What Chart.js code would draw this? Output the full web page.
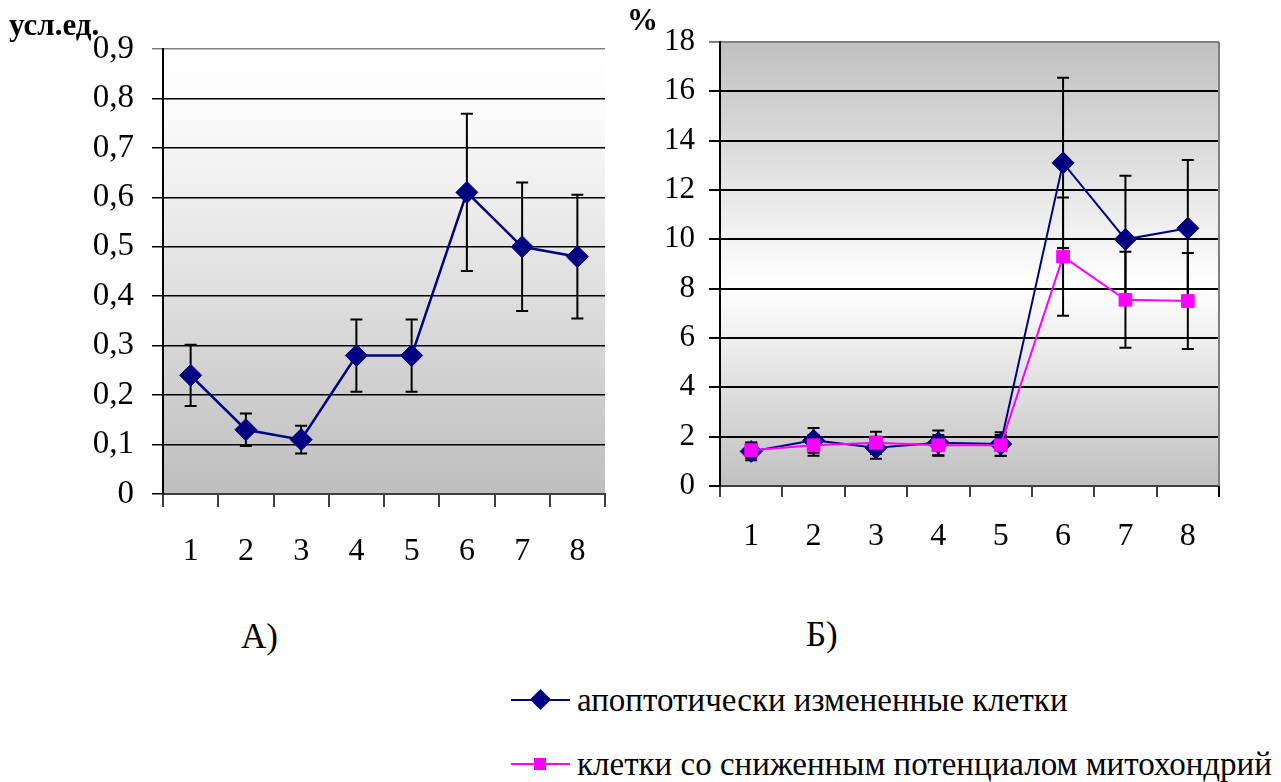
<!DOCTYPE html>
<html>
<head>
<meta charset="utf-8">
<script src="https://cdn.jsdelivr.net/npm/chart.js@4"></script>
<style>
  body { margin: 0; background: #fff; width: 1281px; height: 782px; position: relative; overflow: hidden; font-family: "Liberation Serif", "Times New Roman", serif; }
  canvas { position: absolute; }
  .txt { position: absolute; white-space: nowrap; color: #000; line-height: 1; }
  .unit { font-weight: bold; font-size: 31px; }
  .panel { font-size: 35px; }
  .leg { font-size: 33px; }
  .mk { position: absolute; }
</style>
</head>
<body>
<canvas id="chartA" width="620" height="600" style="left:0;top:0;width:620px;height:600px"></canvas>
<canvas id="chartB" width="661" height="600" style="left:620px;top:0;width:661px;height:600px"></canvas>

<div class="txt unit" style="left:9px;top:9px">усл.ед.</div>
<div class="txt unit" style="left:627px;top:4px">%</div>
<div class="txt panel" style="left:241px;top:619px">А)</div>
<div class="txt panel" style="left:806px;top:617px">Б)</div>

<!-- legend -->
<div class="mk" style="left:511px;top:699px;width:59px;height:2px;background:#000080"></div>
<div class="mk" style="left:533px;top:692px;width:15px;height:15px;background:#000080;transform:rotate(45deg)"></div>
<div class="txt leg" style="left:577px;top:684px">апоптотически измененные клетки</div>
<div class="mk" style="left:511px;top:763px;width:59px;height:2px;background:#ff00ff"></div>
<div class="mk" style="left:534px;top:758px;width:12px;height:12px;background:#ff00ff"></div>
<div class="txt leg" style="left:577px;top:748px">клетки со сниженным потенциалом митохондрий</div>

<script>
const categories = ["1", "2", "3", "4", "5", "6", "7", "8"];

// А) усл.ед.
const indexA = [0.24, 0.13, 0.11, 0.28, 0.28, 0.61, 0.50, 0.48];
const indexAErr = [0.062, 0.033, 0.028, 0.073, 0.073, 0.159, 0.13, 0.125];

// Б) %
const apoptotic = [1.4, 1.85, 1.55, 1.75, 1.7, 13.1, 10.0, 10.45];
const apoptoticErr = [0.36, 0.5, 0.45, 0.5, 0.48, 3.45, 2.58, 2.77];
const lowPotential = [1.45, 1.65, 1.75, 1.65, 1.65, 9.3, 7.55, 7.5];
const lowPotentialErr = [0.3, 0.42, 0.45, 0.42, 0.42, 2.4, 1.95, 1.95];

const FONT = "'Liberation Serif', 'Times New Roman', serif";

// gradient fill of the plot area
const plotBackground = {
  id: "plotBackground",
  beforeDraw(chart, args, opts) {
    const { ctx, chartArea: a } = chart;
    const g = ctx.createLinearGradient(0, a.top, 0, a.bottom);
    opts.stops.forEach(([p, c]) => g.addColorStop(p, c));
    ctx.save();
    ctx.fillStyle = g;
    ctx.fillRect(a.left, a.top, a.right - a.left, a.bottom - a.top);
    ctx.restore();
  },
  afterDraw(chart, args, opts) {
    if (!opts.rightBorder) return;
    const { ctx, chartArea: a } = chart;
    ctx.save();
    ctx.strokeStyle = "#808080";
    ctx.lineWidth = 2;
    ctx.beginPath();
    ctx.moveTo(a.right, a.top);
    ctx.lineTo(a.right, a.bottom);
    ctx.stroke();
    ctx.strokeStyle = "#000";
    ctx.beginPath();
    ctx.moveTo(a.right, a.bottom);
    ctx.lineTo(a.right, a.bottom + 11);
    ctx.stroke();
    ctx.restore();
  }
};

// vertical error bars, drawn under the markers
const errorBars = {
  id: "errorBars",
  beforeDatasetsDraw(chart) {
    const { ctx } = chart;
    const y = chart.scales.y;
    ctx.save();
    ctx.strokeStyle = "#000";
    ctx.lineWidth = 2;
    chart.data.datasets.forEach((ds, di) => {
      if (!ds.errors) return;
      const meta = chart.getDatasetMeta(di);
      meta.data.forEach((pt, i) => {
        const v = ds.data[i], e = ds.errors[i];
        const top = y.getPixelForValue(v + e);
        const bot = y.getPixelForValue(v - e);
        ctx.beginPath();
        ctx.moveTo(pt.x, top); ctx.lineTo(pt.x, bot);
        ctx.moveTo(pt.x - 6, top); ctx.lineTo(pt.x + 6, top);
        ctx.moveTo(pt.x - 6, bot); ctx.lineTo(pt.x + 6, bot);
        ctx.stroke();
      });
    });
    ctx.restore();
  }
};

const makeChart = (id, datasets, yOpts, area, bg, rightBorder) => {
  return new Chart(document.getElementById(id), {
    type: "line",
    data: { labels: categories, datasets },
    plugins: [plotBackground, errorBars],
    options: {
      responsive: false,
      animation: false,
      layout: { padding: { top: area.top, right: area.right, left: 0, bottom: 0 } },
      plugins: {
        legend: { display: false },
        tooltip: { enabled: false },
        plotBackground: { stops: bg, rightBorder }
      },
      scales: {
        x: {
          offset: true,
          afterFit: (s) => { s.height = area.xHeight; },
          grid: { offset: true, drawOnChartArea: false, tickLength: area.xTick, color: "#404040", lineWidth: 2 },
          border: { display: true, color: "#404040", width: 2 },
          ticks: { color: "#000", padding: area.xPad, font: { family: FONT, size: 32 } }
        },
        y: {
          min: 0,
          max: yOpts.max,
          afterFit: (s) => { s.width = area.left; },
          ticks: {
            stepSize: yOpts.step,
            color: "#000",
            padding: yOpts.pad,
            font: { family: FONT, size: yOpts.size },
            callback: yOpts.format
          },
          grid: {
            tickLength: 11,
            lineWidth: yOpts.gridWidth,
            color: (c) => (c.tick && Math.abs(c.tick.value - yOpts.max) < 1e-9 ? "#808080" : "#000")
          },
          border: { display: true, color: "#000", width: 2 }
        }
      }
    }
  });
};

makeChart("chartA", [{
  data: indexA,
  errors: indexAErr,
  borderColor: "#000080",
  backgroundColor: "#000080",
  borderWidth: 2.5,
  pointStyle: "rectRot",
  pointRadius: 11,
  pointBorderWidth: 1
}], {
  max: 0.9, step: 0.1, gridWidth: 1.5, size: 33, pad: 18,
  format: (v) => (v === 0 ? "0" : v.toFixed(1).replace(".", ","))
}, { left: 163, right: 15, top: 49, xHeight: 106, xPad: 25, xTick: 13 },
[[0, "#ffffff"], [0.15, "#fbfbfb"], [1, "#bebebe"]], false);

makeChart("chartB", [{
  data: apoptotic,
  errors: apoptoticErr,
  borderColor: "#000080",
  backgroundColor: "#000080",
  borderWidth: 2,
  pointStyle: "rectRot",
  pointRadius: 11,
  pointBorderWidth: 1,
  order: 1
}, {
  data: lowPotential,
  errors: lowPotentialErr,
  borderColor: "#ff00ff",
  backgroundColor: "#ff00ff",
  borderWidth: 2,
  pointStyle: "rect",
  pointRadius: 9,
  pointBorderWidth: 1,
  order: 0
}], {
  max: 18, step: 2, gridWidth: 2, size: 31, pad: 14,
  format: (v) => String(v)
}, { left: 100, right: 62, top: 42, xHeight: 114, xPad: 20, xTick: 11 },
[[0, "#c0c0c0"], [0.55, "#ffffff"], [1, "#c0c0c0"]], true);
</script>
</body>
</html>
